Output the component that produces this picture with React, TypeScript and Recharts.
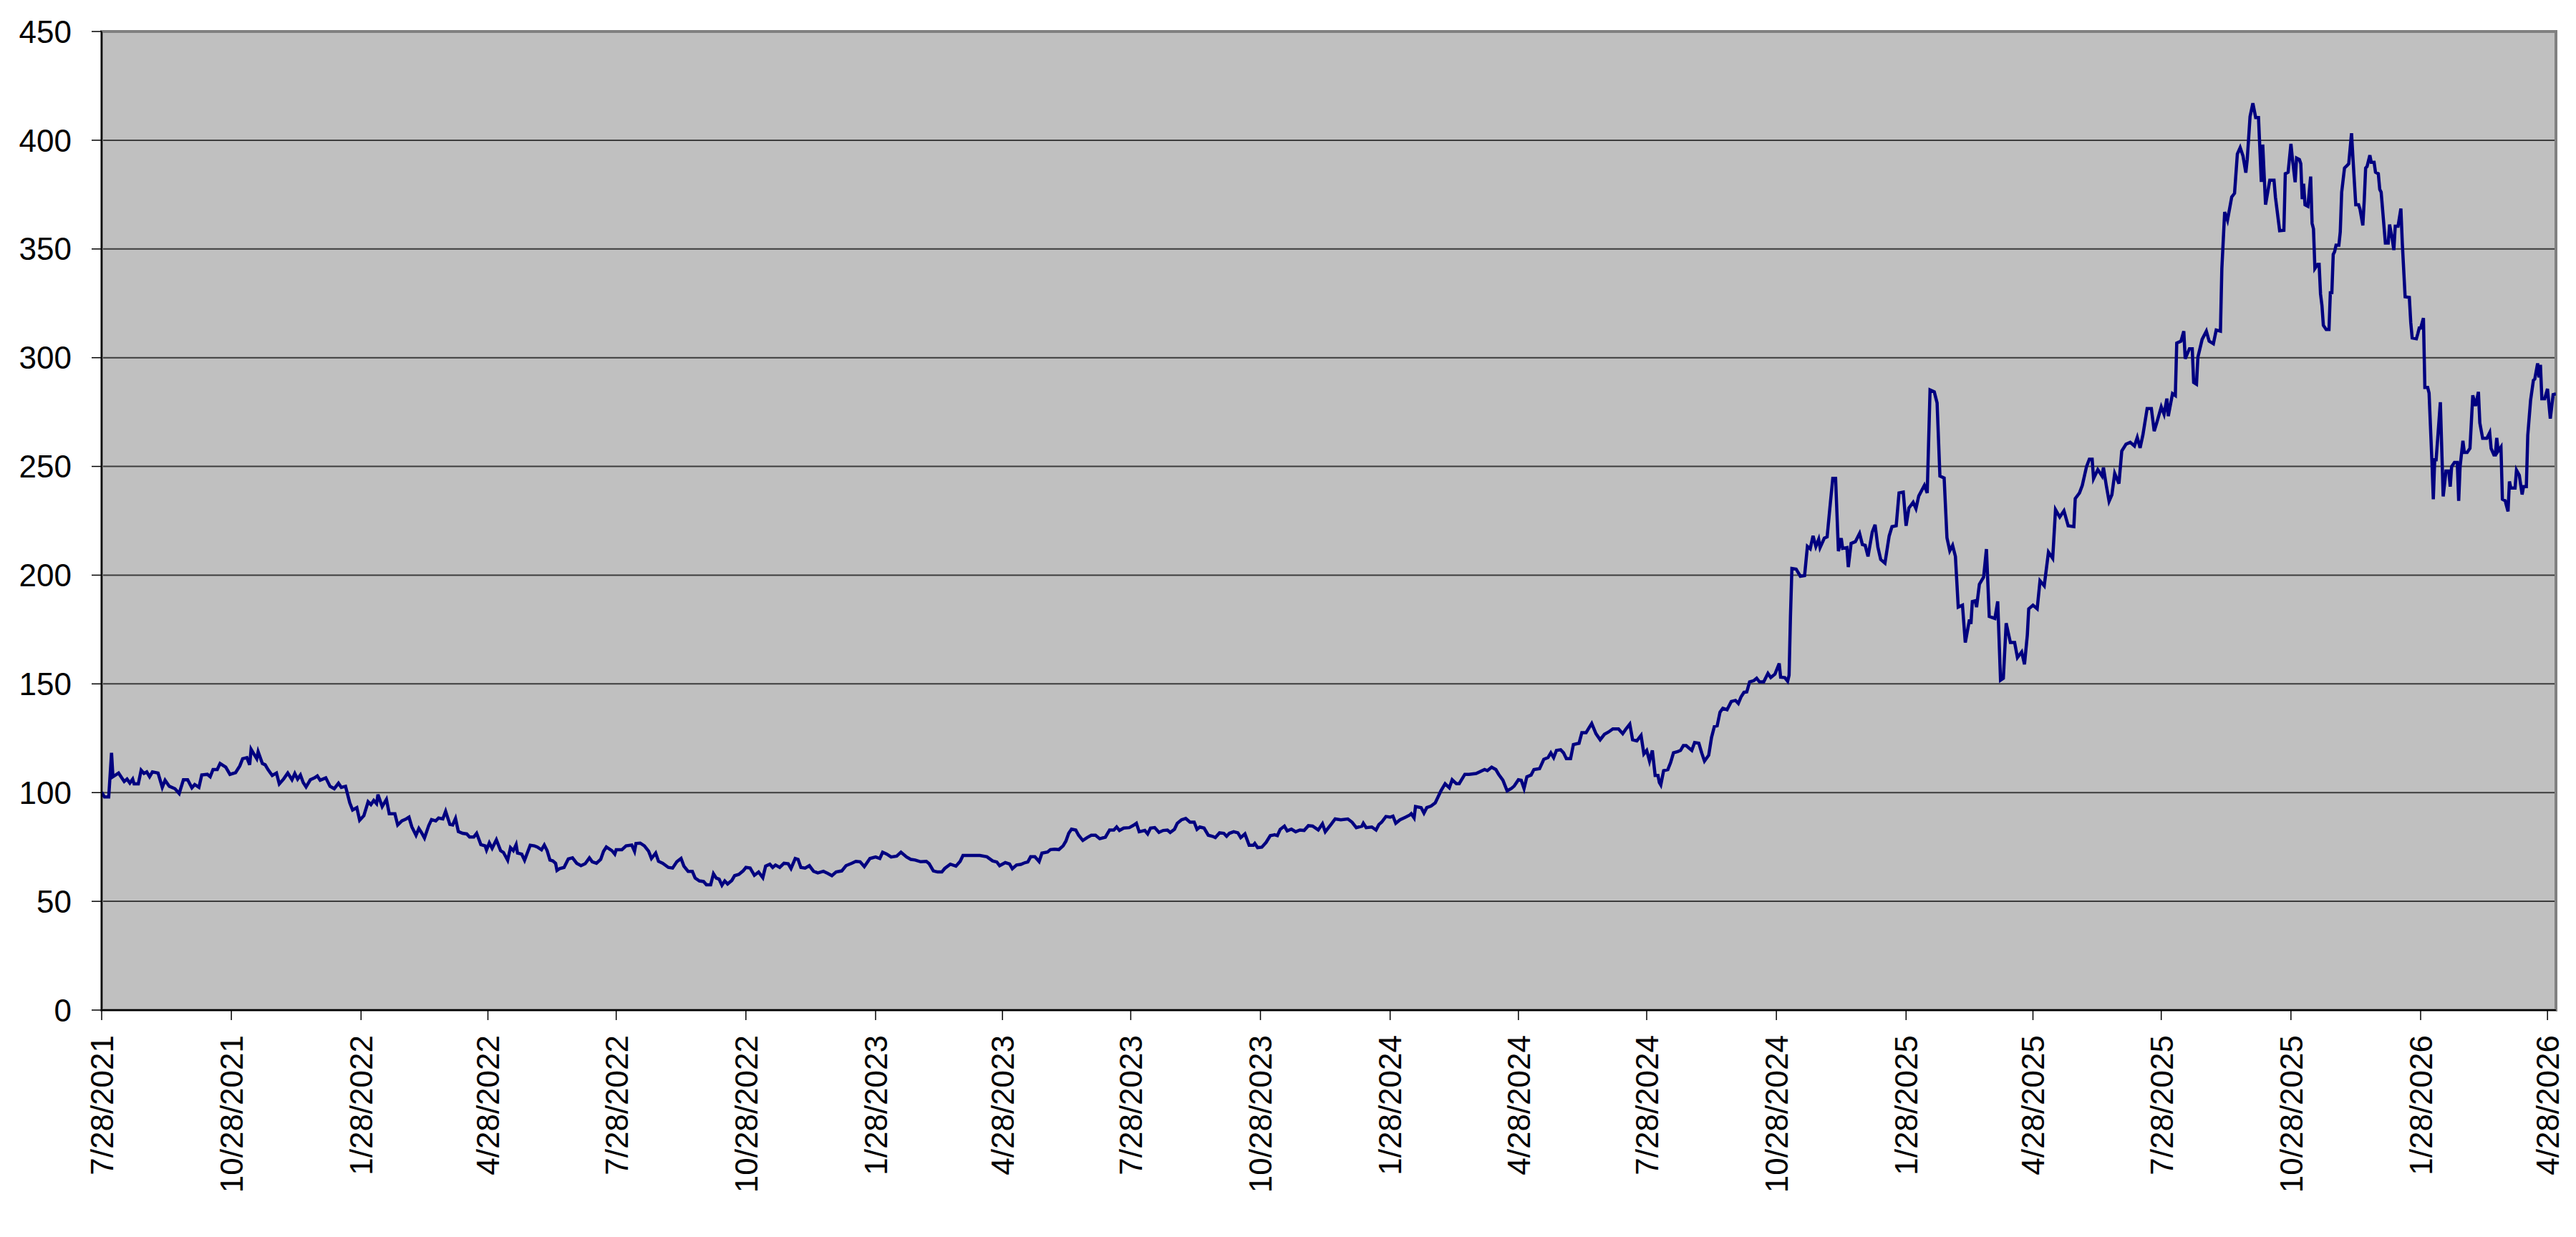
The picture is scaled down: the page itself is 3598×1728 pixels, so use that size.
import { LineChart, Line, XAxis, YAxis, CartesianGrid, ReferenceArea } from 'recharts'

// days since 7/28/2021 and the closing value
const days = [
  0, 2, 5, 7, 8, 12, 16, 18, 20, 22, 23, 26, 28, 30, 32, 34, 36, 40, 43, 45, 48, 52, 55, 58, 61, 64, 66, 69, 71, 75,
  77, 79, 82, 84, 88, 91, 95, 98, 100, 103, 105, 106, 108, 110, 111, 114, 116, 118, 121, 124, 126, 129, 132, 135, 137,
  139, 141, 143, 145, 148, 151, 153, 155, 159, 162, 165, 168, 170, 173, 176, 178, 181, 183, 186, 189, 191, 193, 195,
  196, 199, 202, 204, 208, 210, 213, 216, 218, 220, 223, 225, 227, 229, 232, 234, 237, 239, 242, 244, 247, 249, 251,
  253, 256, 259, 261, 264, 266, 269, 272, 273, 275, 277, 280, 283, 285, 288, 290, 292, 294, 295, 298, 300, 304, 307,
  309, 312, 314, 316, 318, 320, 322, 323, 325, 328, 331, 334, 337, 340, 343, 346, 348, 351, 354, 356, 358, 362, 364,
  365, 369, 372, 376, 378, 379, 382, 385, 388, 390, 393, 395, 398, 402, 405, 408, 411, 413, 416, 419, 421, 424, 427,
  429, 432, 434, 436, 438, 440, 442, 444, 447, 449, 452, 455, 457, 460, 463, 466, 469, 471, 474, 476, 478, 481, 484,
  487, 489, 492, 494, 496, 499, 502, 505, 508, 512, 515, 518, 521, 525, 528, 532, 535, 538, 541, 545, 549, 552, 554,
  557, 560, 564, 567, 571, 574, 577, 581, 585, 587, 590, 593, 596, 598, 602, 606, 609, 611, 615, 618,
  623, 628, 632, 635, 637, 641, 644, 646, 649, 652, 655, 657, 659, 662, 665, 667, 671, 673, 676, 679, 682, 684, 686,
  688, 691, 693, 696, 699, 702, 705, 708, 712, 715, 718, 720, 722, 725, 729, 732, 734, 736, 740, 742, 744, 747, 750,
  753, 756, 758, 761, 763, 766, 769, 772, 775, 777, 779, 782, 785, 788, 790, 793, 796, 798, 800, 803, 806, 808, 811,
  814, 817, 818, 820, 823, 826, 829, 832, 834, 836, 839, 841, 844, 847, 850, 853, 856, 859, 863, 866, 868, 872, 875,
  879, 884, 887, 890, 894, 895, 897, 901, 904, 906, 908, 911, 914, 916, 918, 921, 925, 928,
  929, 931, 932, 936, 938, 940, 943, 946, 948, 950, 953, 956, 958, 961, 963, 967, 970, 975, 981, 983, 986, 989, 991,
  994, 997, 1000, 1002, 1005, 1007, 1009, 1011, 1014, 1016, 1020, 1023, 1026, 1028, 1030, 1032, 1035, 1037, 1039,
  1042, 1044, 1048, 1050, 1053, 1057, 1060, 1063, 1066, 1069, 1072, 1076, 1079, 1081, 1084, 1086, 1089, 1092, 1094,
  1096, 1098, 1100, 1102, 1104, 1105, 1106, 1108, 1111, 1113, 1115, 1118, 1120, 1122, 1124, 1126, 1128, 1130, 1133,
  1135, 1137, 1140, 1142, 1144, 1146, 1148, 1150, 1153, 1156, 1159, 1161, 1163, 1165, 1167, 1169, 1172, 1174, 1176,
  1179, 1182, 1184, 1187, 1190, 1191, 1194, 1196, 1197, 1198, 1199, 1202, 1205, 1208, 1210, 1212, 1214, 1216, 1218,
  1219, 1222, 1224, 1226, 1228, 1230, 1232, 1234, 1235, 1238,
  1239, 1241, 1244, 1247, 1249, 1251, 1253, 1256, 1258, 1260, 1262, 1265, 1268, 1270, 1273, 1275, 1278, 1280, 1282,
  1285, 1287, 1289, 1293, 1295, 1297, 1300, 1302, 1304, 1307, 1309, 1311, 1313, 1315, 1317, 1320, 1322, 1325, 1326,
  1327, 1329, 1330, 1332, 1335, 1337, 1339, 1343, 1345, 1347, 1349, 1351, 1354, 1357, 1359, 1362, 1364, 1366, 1367,
  1370, 1373, 1375, 1378, 1381, 1384, 1386, 1389, 1392, 1395, 1399, 1400, 1403, 1405, 1408, 1410, 1412, 1413, 1416,
  1419, 1420, 1422, 1424, 1426, 1428, 1431, 1433, 1436, 1439, 1442, 1444, 1446, 1448, 1451, 1454, 1456, 1458, 1461,
  1463, 1465, 1466, 1469, 1471, 1472, 1475, 1477, 1478, 1481, 1483, 1484, 1486, 1487, 1490, 1493, 1495, 1498, 1500,
  1503, 1504, 1506, 1508, 1511, 1513, 1515, 1517, 1519, 1521, 1522, 1524, 1526, 1528, 1530, 1532, 1533, 1535, 1538,
  1541, 1542, 1545, 1548,
  1549, 1551, 1553, 1554, 1556, 1557, 1559, 1560, 1561, 1562, 1563, 1565, 1567, 1568, 1569, 1570, 1572, 1573, 1574,
  1575, 1576, 1578, 1580, 1581, 1582, 1583, 1584, 1585, 1587, 1588, 1589, 1591, 1593, 1594, 1596, 1597, 1599, 1601,
  1602, 1604, 1605, 1606, 1607, 1609, 1610, 1612, 1613, 1615, 1616, 1617, 1618, 1620, 1622, 1623, 1625, 1626, 1627,
  1629, 1631, 1632, 1634, 1637, 1638, 1639, 1642, 1643, 1644, 1645, 1647, 1648, 1650, 1651, 1653, 1654, 1655, 1656,
  1659, 1661, 1663, 1665, 1666, 1667, 1669, 1671, 1672, 1673, 1675, 1676, 1678, 1680, 1682, 1684, 1686, 1687, 1689,
  1692, 1694, 1695, 1697, 1698, 1699, 1700, 1702, 1703, 1705, 1707, 1708, 1709, 1712, 1713, 1715, 1717, 1718, 1720,
  1721, 1723, 1725, 1726, 1728, 1729, 1730, 1731, 1733, 1735, 1737, 1739, 1741,
]

const closes = [
  100.2, 98.0, 98.0, 118.3, 107.3, 109.0, 105.1, 106.2, 104.4, 106.2, 104.0, 104.0, 110.3, 108.8, 109.5, 107.3, 109.5,
  109.0, 102.4, 105.7, 102.9, 101.8, 99.6, 105.9, 105.9, 102.2, 103.7, 102.4, 108.1, 108.4, 107.3, 110.6, 110.6, 113.4,
  111.7, 108.4, 109.2, 112.3, 115.6, 116.1, 112.8, 119.9, 117.7, 115.6, 118.8, 113.4, 112.8, 110.6, 107.9, 109.0,
  104.0, 106.2, 109.0, 105.9, 108.8, 106.2, 108.1, 104.6, 102.6, 105.9, 106.8, 107.7, 105.7, 106.8, 102.9, 101.8,
  104.3, 102.4, 102.9, 95.3, 92.0, 93.1, 87.3, 89.4, 95.8, 94.5, 96.4, 94.9, 99.1, 93.6, 96.9, 90.3, 90.3, 85.1, 87.0,
  87.9, 88.7, 84.3, 80.4, 83.5, 81.5, 79.1, 84.8, 87.6, 87.0, 88.3, 87.9, 91.4, 85.4, 85.1, 88.1, 82.1, 81.3, 81.0,
  79.6, 79.6, 81.3, 76.1, 75.5, 73.6, 76.9, 74.4, 78.3, 73.3, 72.5, 68.9, 74.7, 73.3, 76.1, 72.2, 71.7, 68.9, 75.8,
  75.5,
  75.0, 73.7, 75.9, 73.3, 69.0, 68.6, 67.5, 64.2, 65.1, 65.6, 69.5, 70.0, 67.5, 66.4, 67.3, 70.0, 68.2, 67.5, 69.3,
  73.0, 75.0, 73.3, 71.7, 73.7, 73.7, 75.5, 75.9, 73.0, 76.6, 76.8, 75.5, 73.0, 69.7, 72.2, 68.4, 67.5, 65.6, 65.3,
  68.2, 69.7, 66.2, 63.8, 63.8, 60.7, 59.4, 59.1, 57.6, 57.6, 62.7, 60.7, 60.2, 57.4, 59.4, 58.0, 59.6, 61.8, 62.4,
  64.0, 65.6, 65.3, 62.0, 63.5, 60.9, 66.2, 67.1, 65.6, 66.7, 65.6, 67.5, 67.3, 65.1, 69.7, 69.3, 65.6, 65.3, 66.4,
  63.8, 63.1, 63.8, 62.9, 61.8, 63.5, 64.0, 66.4, 67.5, 68.4, 68.2, 66.0, 69.7, 70.4, 69.7, 72.6, 71.7, 70.4, 70.8,
  72.6, 70.4, 69.3, 69.0, 68.2, 68.4, 67.3, 64.0, 63.5, 63.5, 65.1, 67.1, 66.2, 68.4, 71.1, 71.1, 71.1,
  71.1, 70.5, 68.6, 68.1, 66.4, 67.8, 67.2, 65.0, 66.7, 67.0, 67.8, 68.1, 70.5, 70.5, 68.3, 72.2, 72.7, 73.8, 74.0,
  73.8, 75.5, 77.7, 81.3, 83.2, 82.8, 80.4, 78.0, 79.3, 80.4, 80.4, 78.8, 79.5, 82.8, 82.8, 84.2, 82.6, 83.7, 83.9,
  85.0, 85.9, 82.0, 82.6, 81.0, 83.7, 83.9, 81.7, 82.6, 82.8, 81.7, 83.1, 85.9, 87.5, 88.1, 86.4, 86.4, 83.1, 84.2,
  83.7, 80.4, 79.9, 79.3, 81.5, 81.3, 79.9, 81.3, 82.0, 81.5, 79.3, 81.0, 75.8, 75.8, 76.6, 74.7, 74.9, 77.1, 80.2,
  80.6, 80.2, 83.1, 84.6, 82.4, 83.2, 82.0, 82.8, 82.6, 84.8, 84.6, 82.8, 85.7, 82.0, 85.3, 87.9, 87.5, 87.9, 86.4,
  83.9, 84.6, 85.9, 83.9, 84.2, 82.8, 85.3, 86.4, 89.0, 88.7, 89.2, 85.9, 87.5, 88.7, 89.7,
  90.3, 88.4, 93.6, 93.1, 90.6, 93.1, 93.8, 95.3, 98.0, 100.8, 104.1, 102.2, 105.9, 104.1, 104.1, 108.4, 108.4, 108.8,
  110.6, 110.1, 111.7, 110.6, 108.4, 105.7, 100.8, 101.9, 103.0, 105.9, 105.7, 101.9, 107.3, 108.1, 110.6, 111.0,
  115.3, 116.1, 118.3, 116.1, 119.4, 119.7, 118.3, 115.6, 115.6, 122.1, 122.7, 127.6, 127.6, 131.8, 127.1, 124.3,
  126.8, 127.9, 129.3, 129.3, 127.1, 129.0, 131.5, 124.3, 123.8, 126.3, 117.8, 119.4, 114.5, 119.4, 107.9, 107.9,
  104.6, 103.5, 110.1, 110.6, 113.9, 118.3, 118.9, 119.4, 121.6, 121.6, 120.5, 119.4, 123.0, 122.7, 118.3, 114.5,
  117.2, 125.4, 130.4, 130.7, 137.0, 138.8, 138.1, 141.9, 142.4, 141.0, 144.1, 146.1, 146.3, 150.9, 151.5, 152.6,
  150.9, 150.9, 154.8, 152.9, 154.5, 159.4, 153.1, 152.9, 151.2, 154.0, 181.4, 203.1, 202.8, 199.5, 199.8, 213.2,
  212.1, 218.1, 213.2, 216.5, 212.7, 217.0, 217.6, 231.3, 244.5, 244.5, 211.0, 217.0, 212.3, 212.7,
  203.7, 214.6, 215.4, 219.2, 214.1, 213.7, 208.6, 219.8, 223.2, 212.9, 207.2, 205.5, 218.0, 222.3, 222.7, 237.8,
  238.2, 222.7, 230.9, 233.5, 230.6, 236.4, 241.3, 237.8, 285.2, 284.3, 279.2, 245.6, 244.7, 217.2, 211.2, 213.7,
  208.6, 185.3, 186.2, 169.0, 179.6, 177.6, 187.9, 188.2, 185.3, 195.8, 199.1, 212.0, 181.0, 180.1, 187.9, 151.7,
  152.6, 177.9, 169.0, 169.0, 162.1, 164.7, 159.0, 172.4, 184.5, 186.2, 184.5, 197.4, 195.1, 210.6, 207.7, 230.1,
  226.7, 229.6, 222.7, 222.3, 235.2, 237.8, 241.3, 249.9, 253.3, 253.3, 244.4, 248.5, 245.6, 249.5, 241.3, 234.0,
  237.0, 246.8, 242.1, 257.1, 260.2, 261.1, 259.4, 263.3, 258.5, 264.5, 276.6, 276.6, 266.2, 270.5, 277.4, 274.0,
  281.2, 273.1, 283.5, 282.6, 306.7, 307.6, 312.2, 299.5, 304.1, 304.1, 288.6, 287.8, 300.2, 308.4, 312.2, 307.6,
  306.4, 312.7, 312.2, 341.1, 367.0, 363.2, 373.9, 375.6, 393.7, 396.6, 392.8, 385.1, 391.1, 410.9, 417.0, 410.4,
  410.4, 380.8, 398.0, 370.4, 381.6, 381.6, 373.9, 358.4, 358.6,
  384.6, 385.3, 398.3, 391.8, 380.7, 391.8, 391.1, 389.2, 372.9, 380.0, 370.3, 369.6, 383.3, 361.8, 359.2, 341.0,
  342.9, 342.9, 329.3, 324.1, 314.9, 313.0, 313.0, 330.6, 329.3, 347.5, 348.8, 351.7, 351.7, 357.9, 376.1, 387.2,
  388.5, 389.2, 403.2, 391.8, 370.3, 370.3, 368.3, 360.8, 372.2, 387.2, 387.9, 393.1, 389.8, 389.8, 385.3, 384.6,
  377.4, 376.1, 368.3, 352.7, 352.7, 361.2, 354.0, 349.5, 360.5, 360.5, 368.6, 352.7, 328.0, 327.7, 316.2, 309.1,
  308.7, 311.0, 313.6, 313.6, 318.2, 286.3, 286.3, 283.7, 252.5, 234.9, 253.1, 253.1, 279.5, 236.2, 247.9, 247.9,
  240.7, 249.9, 251.8, 251.8, 234.2, 249.9, 261.8, 256.4, 256.4, 258.3, 282.7, 277.8, 284.3, 270.0, 262.9, 262.9,
  265.5, 258.3, 255.3, 255.3, 263.1, 257.0, 258.9, 234.9, 234.2, 229.3, 243.1, 240.1, 240.1, 248.3, 245.9, 237.1,
  240.7, 240.7, 264.2, 280.4, 289.6, 290.2, 297.4, 290.9, 296.7, 281.1, 281.1, 285.7, 272.0, 283.0, 283.4,
]

const startDate = '7/28/2021'
const tickDates = [
  '7/28/2021', '10/28/2021', '1/28/2022', '4/28/2022', '7/28/2022', '10/28/2022', '1/28/2023', '4/28/2023',
  '7/28/2023', '10/28/2023', '1/28/2024', '4/28/2024', '7/28/2024', '10/28/2024', '1/28/2025', '4/28/2025',
  '7/28/2025', '10/28/2025', '1/28/2026', '4/28/2026',
]
const yTicks = [0, 50, 100, 150, 200, 250, 300, 350, 400, 450]

function toUtc(s: string) {
  const [m, d, y] = s.split('/').map(Number)
  return Date.UTC(y, m - 1, d)
}
const dayMs = 86400000
const tickDays = tickDates.map((s) => Math.round((toUtc(s) - toUtc(startDate)) / dayMs))
const data = days.map((d, i) => ({ d, v: closes[i] }))

const font = '"Liberation Sans", Arial, sans-serif'

function DateTick({ x, y, payload }: any) {
  const i = tickDays.indexOf(payload.value)
  return (
    <text x={x} y={y} transform={`rotate(-90 ${x} ${y})`} textAnchor="end" dy="0.36em" fontSize={44} fontFamily={font} fill="#000">
      {i >= 0 ? tickDates[i] : ''}
    </text>
  )
}

export default function App() {
  return (
    <div style={{ width: 3598, height: 1728, background: '#fff' }}>
      <style>{'body{margin:0}'}</style>
      <LineChart width={3598} height={1728} data={data} margin={{ top: 44, right: 28, bottom: 0, left: 0 }}>
        <CartesianGrid vertical={false} fill="#C0C0C0" stroke="#3c3c3c" strokeWidth={2} />
        <ReferenceArea x1={0} x2={1741} y1={0} y2={450} fill="none" stroke="#808080" strokeWidth={4} ifOverflow="visible" />
        <XAxis
          dataKey="d"
          type="number"
          domain={[0, 1741]}
          ticks={tickDays}
          interval={0}
          height={317}
          tickSize={14}
          tickMargin={21}
          tick={<DateTick />}
          axisLine={{ stroke: '#000', strokeWidth: 2 }}
          tickLine={{ stroke: '#000', strokeWidth: 1.5 }}
          allowDataOverflow
        />
        <YAxis
          domain={[0, 450]}
          ticks={yTicks}
          interval={0}
          width={142}
          tickSize={14}
          tickMargin={28}
          tick={{ fontSize: 44, fontFamily: font, fill: '#000' }}
          axisLine={{ stroke: '#000', strokeWidth: 2 }}
          tickLine={{ stroke: '#000', strokeWidth: 1.5 }}
          allowDataOverflow
        />
        <Line type="linear" dataKey="v" stroke="#000080" strokeWidth={4.5} dot={false} isAnimationActive={false} />
      </LineChart>
    </div>
  )
}
